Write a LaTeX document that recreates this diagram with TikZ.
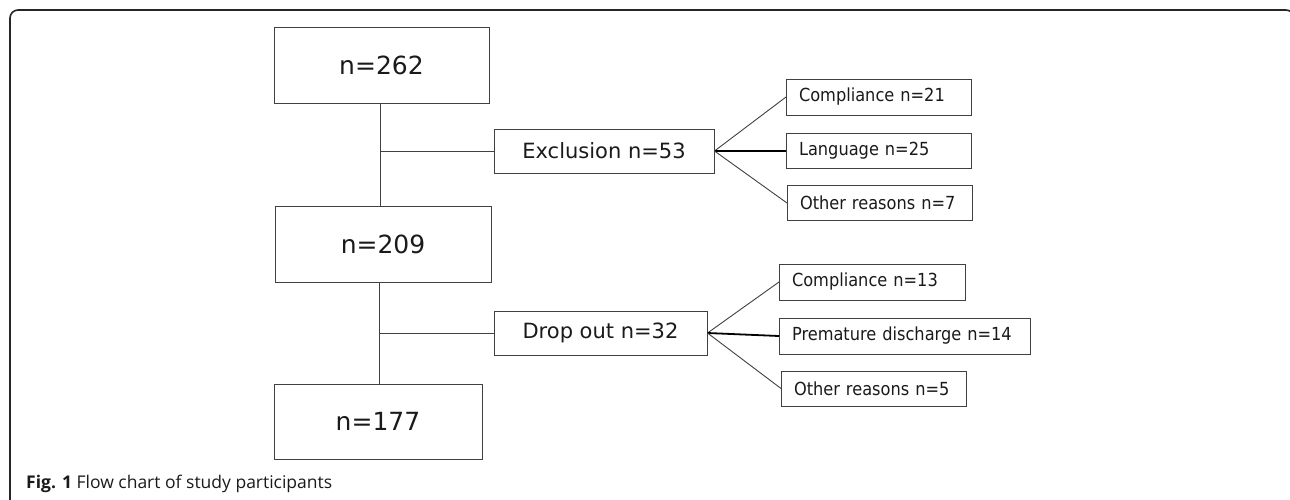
\documentclass[tikz,border=0pt]{standalone}
\usepackage{fontspec}
\setmainfont{DejaVu Sans}
\newfontfamily\fbigsans{DejaVu Sans}
\newfontfamily\fcondsans{DejaVu Sans}[FakeStretch=0.9]
\newfontfamily\fcapsans{Open Sans}
\definecolor{boxline}{HTML}{404040}
\definecolor{txt}{HTML}{1A1A1A}
\begin{document}
\begin{tikzpicture}[x=1pt,y=-1pt,
  bigbox/.style={draw=boxline, line width=1pt, rectangle, inner sep=0pt,
    font=\fbigsans\fontsize{25}{30}\selectfont, text=txt},
  midbox/.style={draw=boxline, line width=1pt, rectangle, inner sep=0pt,
    font=\fbigsans\fontsize{21}{25}\selectfont, text=txt},
  smallbox/.style={draw=boxline, line width=1pt, rectangle, anchor=west,
    inner xsep=12.5pt, inner ysep=0pt, align=left,
    font=\fcondsans\fontsize{18}{21}\selectfont, text=txt},
  link/.style={draw=boxline, line width=0.9pt},
  mainlink/.style={draw=black, line width=1.8pt}
]
\useasboundingbox (0,0) rectangle (1290,499);
\begin{scope}
\clip (0,0) rectangle (1290,499);
\draw[line width=1.6pt, black!85, rounded corners=8pt] (10,10) rectangle (1294,530);
\end{scope}

% main boxes
\node[bigbox, minimum width=215pt, minimum height=76pt] (n262) at (381.5,65) {n=262};
\node[bigbox, minimum width=216pt, minimum height=76pt] (n209) at (383,244) {n=209};
\node[bigbox, minimum width=208pt, minimum height=75pt] (n177) at (378,421.5) {n=177};

\node[midbox, minimum width=220pt, minimum height=44pt] (excl) at (604,151) {Exclusion n=53};
\node[midbox, minimum width=213pt, minimum height=44pt] (drop) at (600.5,333) {Drop out n=32};

% exclusion reasons
\node[smallbox, text width=160pt, minimum height=36pt] (c21) at (786,97) {Compliance n=21};
\node[smallbox, text width=160pt, minimum height=35pt] (l25) at (786,151) {Language n=25};
\node[smallbox, text width=160pt, minimum height=35pt] (o7) at (787,203) {Other reasons n=7};

% drop out reasons
\node[smallbox, text width=161pt, minimum height=36pt] (c13) at (779,282) {Compliance n=13};
\node[smallbox, text width=226pt, minimum height=36pt] (p14) at (779,336) {Premature discharge n=14};
\node[smallbox, text width=160pt, minimum height=35pt] (o5) at (781,388.5) {Other reasons n=5};

% junctions
\coordinate (j1) at (380,151);
\coordinate (j2) at (379,333);

\draw[link] (j1 |- n262.south) -- (j1 |- n209.north);
\draw[link] (j1) -- (excl.west);
\draw[link] (j2 |- n209.south) -- (j2 |- n177.north);
\draw[link] (j2) -- (drop.west);

\draw[link] (excl.east) -- (c21.west);
\draw[mainlink] (excl.east) -- (l25.west);
\draw[link] (excl.east) -- (o7.west);

\draw[link] (drop.east) -- (c13.west);
\draw[mainlink] (drop.east) -- (p14.west);
\draw[link] (drop.east) -- (o5.west);

% caption
\node[anchor=base west, inner sep=0pt, font=\fcapsans\fontsize{17.5}{20}\selectfont, text=txt] (cap) at (26,488)
  {\textbf{Fig. 1} Flow chart of study participants};
\end{tikzpicture}
\end{document}
